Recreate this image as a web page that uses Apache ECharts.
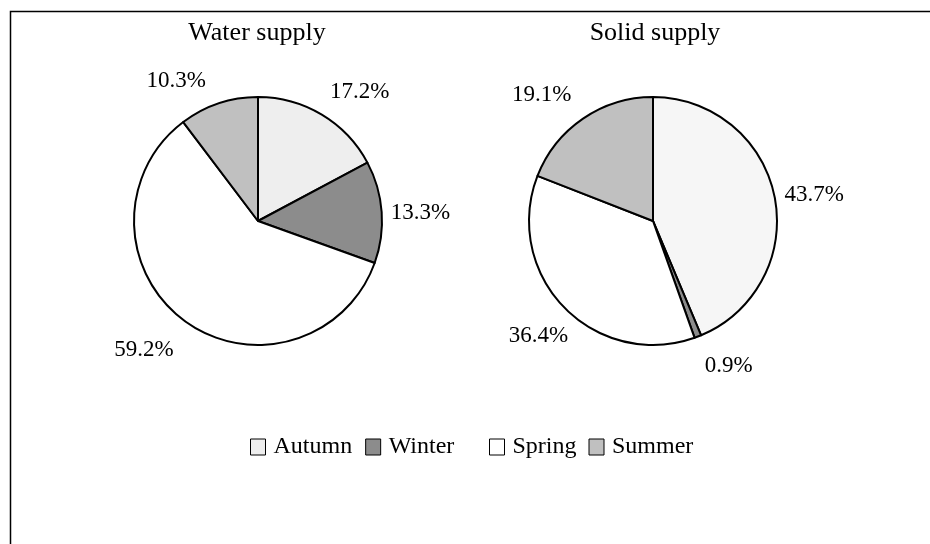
<!DOCTYPE html>
<html>
<head>
<meta charset="utf-8">
<script src="https://cdn.jsdelivr.net/npm/echarts@6/dist/echarts.min.js"></script>
<style>
  html, body { margin: 0; padding: 0; background: #fff; }
  #main { width: 930px; height: 544px; }
</style>
</head>
<body>
<div id="main"></div>
<script>
	// seasons, clockwise from 12 o'clock
	var seasons = ['Autumn', 'Winter', 'Spring', 'Summer'];
	var waterValues = [17.2, 13.3, 59.2, 10.3];
	var solidValues = [43.7, 0.9, 36.4, 19.1];
	var pieTitles = ['Water supply', 'Solid supply'];

	var seasonColors = ['#eeeeee', '#8c8c8c', '#ffffff', '#c0c0c0'];
	var FONT = '"Liberation Serif", "Times New Roman", serif';

	// label nudges (px) for each slice, per pie
	var waterNudge = [[-1, -16], [-4, 1], [-1, 23], [-5, -15]];
	var solidNudge = [[-3, 0], [-1, 22], [15, 23], [-2, -17]];

	function buildData(values, firstColor) {
		return seasons.map(function(name, i) {
			var c = (i === 0 && firstColor) ? firstColor : seasonColors[i];
			return { name: name, value: values[i], itemStyle: { color: c } };
		});
	}

	function pieSeries(values, center, nudge, firstColor) {
		return {
			type: 'pie',
			center: center,
			radius: 124,
			startAngle: 90,
			clockwise: true,
			avoidLabelOverlap: false,
			animation: false,
			silent: true,
			itemStyle: { borderColor: '#000', borderWidth: 2 },
			label: {
				show: true,
				position: 'outside',
				formatter: function(p) { return p.value.toFixed(1) + '%'; },
				color: '#000',
				fontFamily: FONT,
				fontSize: 23
			},
			labelLine: { show: false, length: 8, length2: 0 },
			labelLayout: function(p) {
				var n = nudge[p.dataIndex];
				return { dx: n[0], dy: n[1] };
			},
			data: buildData(values, firstColor)
		};
	}

	var legendBase = {
		top: 430,
		icon: 'rect',
		itemWidth: 15,
		itemHeight: 16,
		itemGap: 13,
		itemStyle: { borderColor: '#000', borderWidth: 1 },
		textStyle: { fontFamily: FONT, fontSize: 24, color: '#000', padding: [0, 0, 0, 3] }
	};

	var chart = echarts.init(document.getElementById('main'));
	chart.setOption({
		backgroundColor: '#fff',
		title: [
			{ text: pieTitles[0], left: 252, top: 15, textAlign: 'center',
			  textStyle: { fontFamily: FONT, fontSize: 26, fontWeight: 'normal', color: '#000' } },
			{ text: pieTitles[1], left: 650, top: 15, textAlign: 'center',
			  textStyle: { fontFamily: FONT, fontSize: 26, fontWeight: 'normal', color: '#000' } }
		],
		legend: [
			Object.assign({}, legendBase, { data: seasons.slice(0, 2), left: 245 }),
			Object.assign({}, legendBase, { data: seasons.slice(2), left: 484, itemGap: 12 })
		],
		graphic: [{
			type: 'rect',
			shape: { x: 10.5, y: 11.5, width: 1000, height: 600 },
			style: { fill: null, stroke: '#000', lineWidth: 1.5 },
			silent: true
		}],
		series: [
			pieSeries(waterValues, [258, 221], waterNudge),
			pieSeries(solidValues, [653, 221], solidNudge, '#f6f6f6')
		]
	});
</script>
</body>
</html>
